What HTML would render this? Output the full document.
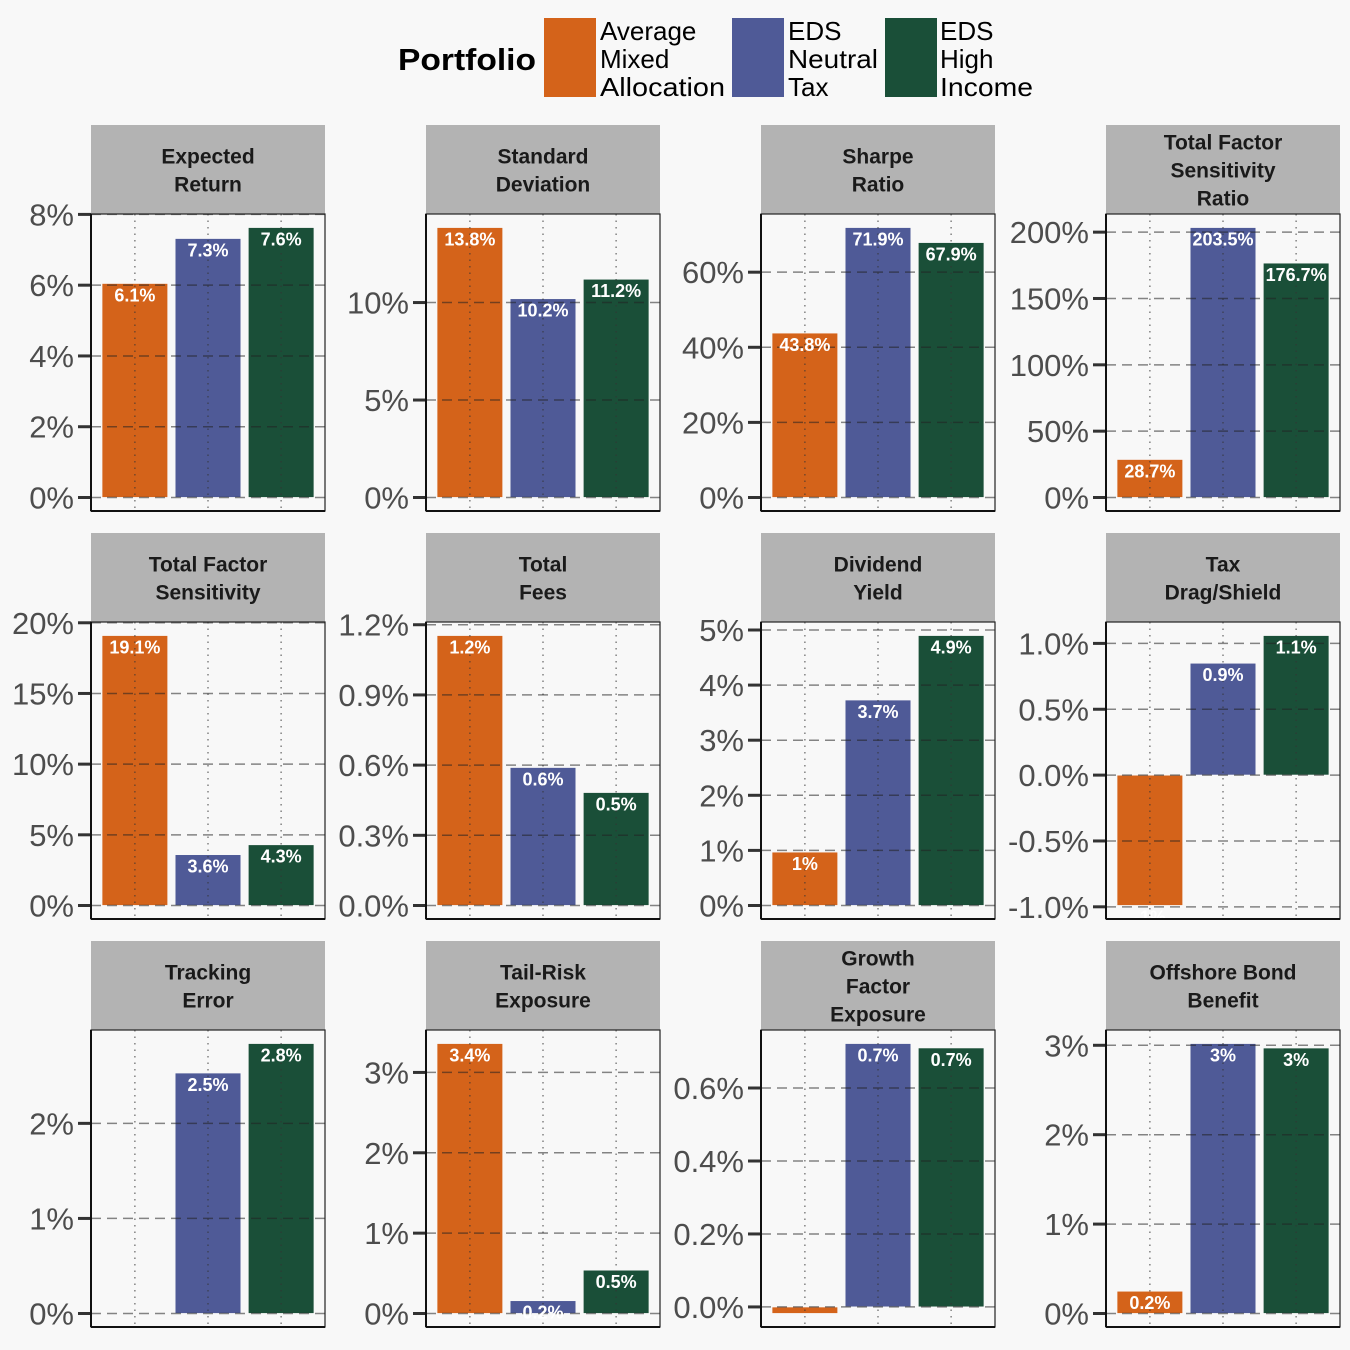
<!DOCTYPE html>
<html><head><meta charset="utf-8"><style>
html,body{margin:0;padding:0;background:#f8f8f8;}
svg{display:block;font-family:"Liberation Sans",sans-serif;}
</style></head><body>
<svg id="chart" width="1350" height="1350" xmlns="http://www.w3.org/2000/svg">
<rect width="1350" height="1350" fill="#f8f8f8"/>
<g>
<text x="398" y="70" font-size="31" font-weight="bold" fill="#000" textLength="138" lengthAdjust="spacingAndGlyphs">Portfolio</text>
<g><rect x="544" y="18" width="52" height="79" fill="#d4631a"/>
<text x="600" y="40" font-size="26" fill="#000"><tspan x="600">Average</tspan><tspan x="600" dy="28">Mixed</tspan><tspan x="600" dy="28" textLength="125" lengthAdjust="spacingAndGlyphs">Allocation</tspan></text></g>
<g><rect x="732" y="18" width="52" height="79" fill="#4f5a97"/>
<text x="788" y="40" font-size="26" fill="#000"><tspan x="788">EDS</tspan><tspan x="788" dy="28" textLength="90" lengthAdjust="spacingAndGlyphs">Neutral</tspan><tspan x="788" dy="28">Tax</tspan></text></g>
<g><rect x="885" y="18" width="52" height="79" fill="#1a4f38"/>
<text x="940" y="40" font-size="26" fill="#000"><tspan x="940">EDS</tspan><tspan x="940" dy="28">High</tspan><tspan x="940" dy="28" textLength="93" lengthAdjust="spacingAndGlyphs">Income</tspan></text></g>
</g>
</svg>
<script>
const titles = [["Expected","Return"],["Standard","Deviation"],["Sharpe","Ratio"],["Total Factor","Sensitivity","Ratio"],
["Total Factor","Sensitivity"],["Total","Fees"],["Dividend","Yield"],["Tax","Drag/Shield"],
["Tracking","Error"],["Tail-Risk","Exposure"],["Growth","Factor","Exposure"],["Offshore Bond","Benefit"]];
const seriesAvg = [6.05,13.85,43.8,28.7,19.1,1.154,0.97,-0.99,0,3.36,-0.018,0.25];
const seriesNeutral = [7.32,10.2,71.9,203.5,3.6,0.59,3.73,0.85,2.53,0.16,0.722,3.02];
const seriesHigh = [7.63,11.2,67.9,176.7,4.3,0.483,4.9,1.06,2.84,0.54,0.71,2.97];
const labelsAvg = ["6.1%","13.8%","43.8%","28.7%","19.1%","1.2%","1%","-1%","","3.4%","","0.2%"];
const labelsNeutral = ["7.3%","10.2%","71.9%","203.5%","3.6%","0.6%","3.7%","0.9%","2.5%","0.2%","0.7%","3%"];
const labelsHigh = ["7.6%","11.2%","67.9%","176.7%","4.3%","0.5%","4.9%","1.1%","2.8%","0.5%","0.7%","3%"];
const ticks = [[0,2,4,6,8],[0,5,10],[0,20,40,60],[0,50,100,150,200],[0,5,10,15,20],[0,0.3,0.6,0.9,1.2],[0,1,2,3,4,5],[-1,-0.5,0,0.5,1],[0,1,2],[0,1,2,3],[0,0.2,0.4,0.6],[0,1,2,3]];
const tickDecimals = [0,0,0,0,0,1,0,1,0,0,1,0];
const colors = ["#d4631a","#4f5a97","#1a4f38"];
const NS="http://www.w3.org/2000/svg";
const svg=document.getElementById('chart');
const colX=[91,426,761,1106], rowY=[214,622,1030], PW=234, PH=297, SH=89;
function mk(tag,attrs,parent){const e=document.createElementNS(NS,tag);for(const k in attrs)e.setAttribute(k,attrs[k]);(parent||svg).appendChild(e);return e;}
for(let p=0;p<12;p++){
  const x0=colX[p%4], y0=rowY[Math.floor(p/4)];
  const vals=[seriesAvg[p],seriesNeutral[p],seriesHigh[p]];
  const labs=[labelsAvg[p],labelsNeutral[p],labelsHigh[p]];
  let lo=Math.min(0,...vals), hi=Math.max(0,...vals); const r=hi-lo; lo-=0.05*r; hi+=0.05*r;
  const y=v=>y0+PH-(v-lo)/(hi-lo)*PH;
  const xc=i=>x0+(i+1-0.4)/3.2*PW;
  const g=mk('g',{});
  
  
  const clipId='clip'+p;
  const cp=mk('clipPath',{id:clipId},g); mk('rect',{x:x0,y:y0,width:PW,height:PH},cp);
  const strip=mk('rect',{x:x0,y:y0-SH,width:PW,height:SH,fill:'#b3b3b3'},g);
  
  
  const tl=titles[p].length, st=mk('text',{x:x0+PW/2,'text-anchor':'middle','font-size':21,'font-weight':'bold',fill:'#1a1a1a'},g);
  
  
  titles[p].forEach((t,i)=>{const ts=mk('tspan',{x:x0+PW/2,y:y0-SH/2+8+(i-(tl-1)/2)*28},st);ts.textContent=t;});
  mk('rect',{x:x0,y:y0,width:PW,height:PH,fill:'#f8f8f8'},g);
  const bg=mk('g',{'clip-path':'url(#'+clipId+')'},g);
  for(let i=0;i<3;i++){
    const v=vals[i], top=y(Math.max(v,0)), bot=y(Math.min(v,0)), bw=0.9/3.2*PW;
    const b=mk('rect',{x:xc(i)-bw/2,y:top,width:bw,height:Math.max(bot-top,0),fill:colors[i],stroke:'#f8f8f8','stroke-width':0.8},bg);
    
    
  }
  for(let i=0;i<3;i++) mk('line',{x1:xc(i),x2:xc(i),y1:y0,y2:y0+PH,stroke:'#333','stroke-opacity':0.6,'stroke-width':1.5,'stroke-dasharray':'1.5 5'},g);
  ticks[p].forEach(t=>{const yy=y(t);
    mk('line',{x1:x0,x2:x0+PW,y1:yy,y2:yy,stroke:'#222','stroke-opacity':0.55,'stroke-width':1.5,'stroke-dasharray':'10 6'},g);
    mk('line',{x1:x0-13,x2:x0,y1:yy,y2:yy,stroke:'#333','stroke-width':3},g);
    const tx=mk('text',{x:x0-17,y:yy+11,'text-anchor':'end','font-size':31,fill:'#4d4d4d'},g);
    
    
    tx.textContent=t.toFixed(tickDecimals[p])+'%';});
  const lg=mk('g',{'clip-path':'url(#'+clipId+')'},g);
  for(let i=0;i<3;i++){
    const v=vals[i];
    if(labs[i]){const lt=mk('text',{x:xc(i),y:y(v)+18,'text-anchor':'middle','font-size':18,'font-weight':'bold',fill:'#fff'},lg);
      
      
      lt.textContent=labs[i];}
  }
  mk('rect',{x:x0,y:y0,width:PW,height:PH,fill:'none',stroke:'#222','stroke-width':1.2},g);
  mk('line',{x1:x0,x2:x0,y1:y0,y2:y0+PH,stroke:'#111','stroke-width':2},g);
  mk('line',{x1:x0,x2:x0+PW,y1:y0+PH,y2:y0+PH,stroke:'#111','stroke-width':2},g);
}
</script>
</body></html>
